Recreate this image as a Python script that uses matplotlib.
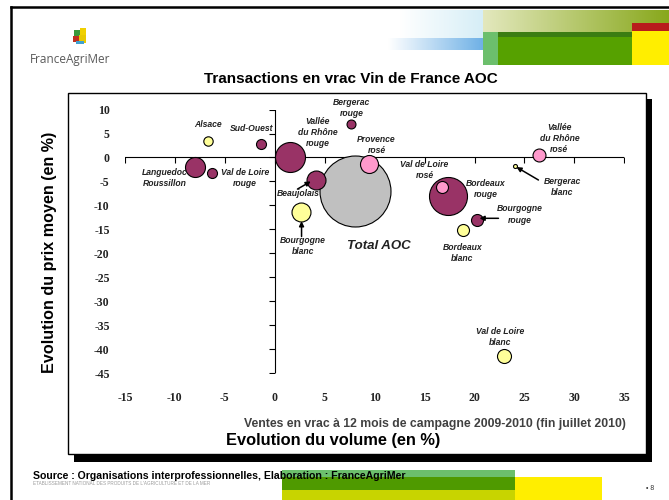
import numpy as np
import matplotlib.pyplot as plt
from matplotlib.patches import Rectangle

plt.rcParams["axes.unicode_minus"] = False

# bubble data
names = ["Total AOC", "Bordeaux rouge", "Vallée du Rhône rouge", "Languedoc Roussillon",
         "Beaujolais", "Bourgogne blanc", "Provence rosé", "Val de Loire blanc",
         "Vallée du Rhône rosé", "Val de Loire rosé", "Bourgogne rouge", "Bordeaux blanc",
         "Sud-Ouest", "Val de Loire rouge", "Alsace", "Bergerac rouge", "Bergerac blanc"]
volume = [8.0, 17.3, 1.5, -8.0, 4.1, 2.6, 9.4, 23.0, 26.5, 16.7, 20.2, 18.8,
          -1.4, -6.3, -6.7, 7.6, 24.1]
price = [-7.0, -8.0, 0.0, -1.9, -4.8, -11.4, -1.4, -41.4, 0.5, -6.1, -13.0, -15.1,
         2.9, -3.2, 3.4, 6.9, -1.8]
weight = [1260, 361, 225, 100, 90, 90, 81, 49, 42, 36, 36, 36, 25, 25, 22, 20, 4]
kind = ["total", "rouge", "rouge", "rouge", "rouge", "blanc", "rose", "blanc",
        "rose", "rose", "rouge", "blanc", "rouge", "rouge", "blanc", "rouge", "blanc"]

colors = {"total": "#C0C0C0", "rouge": "#993366", "blanc": "#FFFF99", "rose": "#FF99CC"}

xticks = list(range(-15, 40, 5))
yticks = list(range(-45, 15, 5))

# label placement (data coords) and arrows
labels = {
    "Alsace": (-6.7, 6.8, "Alsace"),
    "Sud-Ouest": (-2.3, 6.1, "Sud-Ouest"),
    "Vallée du Rhône rouge": (4.3, 5.3, "Vallée\ndu Rhône\nrouge"),
    "Bergerac rouge": (7.7, 10.3, "Bergerac\nrouge"),
    "Languedoc Roussillon": (-11.0, -4.3, "Languedoc\nRoussillon"),
    "Val de Loire rouge": (-3.0, -4.2, "Val de Loire\nrouge"),
    "Beaujolais": (2.4, -7.6, "Beaujolais"),
    "Bourgogne blanc": (2.8, -18.5, "Bourgogne\nblanc"),
    "Provence rosé": (10.2, 2.7, "Provence\nrosé"),
    "Val de Loire rosé": (15.0, -2.7, "Val de Loire\nrosé"),
    "Bordeaux rouge": (21.1, -6.5, "Bordeaux\nrouge"),
    "Bourgogne rouge": (24.5, -11.9, "Bourgogne\nrouge"),
    "Bordeaux blanc": (18.8, -19.9, "Bordeaux\nblanc"),
    "Vallée du Rhône rosé": (28.5, 4.0, "Vallée\ndu Rhône\nrosé"),
    "Bergerac blanc": (28.8, -6.2, "Bergerac\nblanc"),
    "Val de Loire blanc": (22.6, -37.5, "Val de Loire\nblanc"),
}
arrows = [((2.27, -6.6), (3.6, -5.0)),
          ((2.68, -16.5), (2.68, -13.3)),
          ((22.4, -12.7), (20.5, -12.7)),
          ((26.4, -4.7), (24.2, -2.0))]

W, H = 669, 500
fig = plt.figure(figsize=(W / 100, H / 100), dpi=100)

# background layer in pixel coordinates
bg = fig.add_axes([0, 0, 1, 1], zorder=0)
bg.set_xlim(0, W)
bg.set_ylim(H, 0)
bg.axis("off")


def grad(x0, x1, y0, y1, c0, c1):
    c0 = np.array(plt.matplotlib.colors.to_rgb(c0))
    c1 = np.array(plt.matplotlib.colors.to_rgb(c1))
    t = np.linspace(0, 1, 100)[None, :, None]
    img = c0 + (c1 - c0) * t
    bg.imshow(img, extent=(x0, x1, y1, y0), aspect="auto")


def rect(x0, y0, x1, y1, **kw):
    bg.add_patch(Rectangle((x0, y0), x1 - x0, y1 - y0, **kw))


# slide border
bg.plot([11, W], [7, 7], color="black", lw=1.8)
bg.plot([11, 11], [7, H], color="black", lw=1.8)

# header banner
grad(400, 483, 10, 38, "#ffffff", "#d6eef7")
grad(388, 483, 38, 50, "#ffffff", "#6fb1e6")
grad(483, 669, 10, 32, "#e3e8bd", "#88a81c")
rect(483, 32, 632, 37, color="#3b7d12", lw=0)
rect(483, 32, 498, 65, color="#6cbf6c", lw=0)
rect(498, 37, 632, 65, color="#56a100", lw=0)
rect(632, 23, 669, 31, color="#b81c1c", lw=0)
rect(632, 31, 669, 65, color="#ffee00", lw=0)
bg.set_xlim(0, W)
bg.set_ylim(H, 0)

# logo
rect(74, 30, 80, 36, color="#3a9a3a", lw=0)
rect(80, 28, 86, 35, color="#f0d000", lw=0)
rect(73, 36, 79, 42, color="#c03020", lw=0)
rect(79, 35, 86, 43, color="#e8c800", lw=0)
rect(76, 41, 84, 44, color="#40a0d0", lw=0)
bg.text(30, 59, "FranceAgriMer", fontsize=8.5, family="Open Sans",
        color="#5a5a5a", va="center", ha="left")

# chart frame with shadow
rect(74, 99, 652, 462, color="black", lw=0)
rect(68, 93, 646, 454, facecolor="white", edgecolor="black", lw=1)

# footer
rect(282, 477, 602, 500, color="#ffee00", lw=0)
rect(282, 470, 515, 477, color="#6cbf6c", lw=0)
rect(282, 477, 515, 490, color="#4f9a00", lw=0)
rect(282, 490, 515, 500, color="#c8d400", lw=0)
bg.text(33, 476, "Source : Organisations interprofessionnelles, Elaboration : FranceAgriMer",
        fontsize=7.6, fontweight="bold", family="Liberation Sans", va="center", ha="left")
bg.text(33, 483.5, "ETABLISSEMENT NATIONAL DES PRODUITS DE L'AGRICULTURE ET DE LA MER",
        fontsize=3.3, family="Liberation Sans", color="#9a9a9a", va="center", ha="left")
bg.text(646, 489, "• 8", fontsize=5, family="Liberation Sans", color="#333333",
        va="center", ha="left")

# titles
bg.text(351, 79, "Transactions en vrac Vin de France AOC", fontsize=11,
        fontweight="bold", family="Liberation Sans", ha="center", va="center")
bg.text(50, 252, "Evolution du prix moyen (en %)", fontsize=11.6, rotation=90,
        fontweight="bold", family="Liberation Sans", ha="center", va="center")
bg.text(333, 440, "Evolution du volume (en %)", fontsize=11.8,
        fontweight="bold", family="Liberation Sans", ha="center", va="center")
bg.text(626, 424, "Ventes en vrac à 12 mois de campagne 2009-2010 (fin juillet 2010)",
        fontsize=8.8, fontweight="bold", family="Liberation Sans", color="#404040",
        ha="right", va="center")

# chart
ax = fig.add_axes([125 / W, 1 - 373 / H, (624.3 - 125) / W, (373 - 109.6) / H], zorder=2)
ax.patch.set_alpha(0)
ax.set_xlim(-15, 35)
ax.set_ylim(-45, 10)
for s in ax.spines.values():
    s.set_visible(False)
ax.set_xticks(xticks)
ax.set_yticks(yticks)
ax.tick_params(axis="y", length=0, pad=11)
ax.tick_params(axis="x", length=0, pad=14)
for lab in ax.get_xticklabels() + ax.get_yticklabels():
    lab.set_family("Liberation Serif")
    lab.set_fontweight("bold")
    lab.set_fontsize(8.5)
    lab.set_color("#222222")

# axes crossing at zero
ax.plot([-15, 35], [0, 0], color="black", lw=0.8, zorder=1)
ax.plot([0, 0], [-45, 10], color="black", lw=0.8, zorder=1)
ax.plot(xticks, [0] * len(xticks), ls="none", marker=3, ms=4, mew=0.8, color="black", zorder=1)
ax.plot([0] * len(yticks), yticks, ls="none", marker=0, ms=4, mew=0.8, color="black", zorder=1)

px2 = (2 * 0.72) ** 2
for i in range(len(names)):
    ax.scatter(volume[i], price[i], s=weight[i] * px2, color=colors[kind[i]],
               edgecolor="black", linewidth=0.8, zorder=3 + i)

for key, (lx, ly, txt) in labels.items():
    ax.text(lx, ly, txt, fontsize=6.2, fontweight="bold", style="italic",
            family="Liberation Sans", ha="center", va="center", linespacing=1.3,
            color="#222222", zorder=30)
ax.text(10.4, -18.5, "Total AOC", fontsize=9.5, fontweight="bold", style="italic",
        family="Liberation Sans", ha="center", va="center", color="#222222", zorder=30)

for start, end in arrows:
    ax.annotate("", xy=end, xytext=start,
                arrowprops=dict(arrowstyle="-|>", color="black", lw=1.1,
                                mutation_scale=7, shrinkA=0, shrinkB=0), zorder=30)

fig.savefig("out.png", dpi=100)
